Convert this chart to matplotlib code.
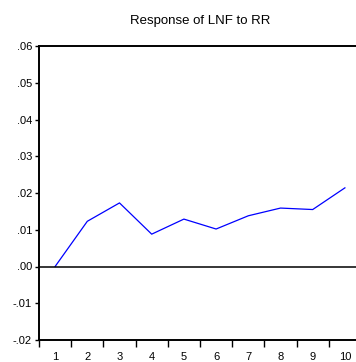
import matplotlib
matplotlib.use("Agg")
import matplotlib.pyplot as plt
from matplotlib.ticker import FixedLocator

plt.rcParams['font.family'] = ['Liberation Sans Narrow', 'Liberation Sans', 'DejaVu Sans']

periods = [1, 2, 3, 4, 5, 6, 7, 8, 9, 10]
response = [0.0, 0.0123, 0.0173, 0.0088, 0.0129, 0.0102, 0.0138, 0.0159, 0.0155, 0.0214]
y_ticks = [-0.02, -0.01, 0.00, 0.01, 0.02, 0.03, 0.04, 0.05, 0.06]
y_labels = ['-.02', '-.01', '.00', '.01', '.02', '.03', '.04', '.05', '.06']
title = 'Response of LNF to RR'

fig = plt.figure(figsize=(3.56, 3.62), dpi=100)
ax = fig.add_axes([39 / 356, 22 / 362, 322 / 356, 294 / 362])

ax.plot(periods, response, color='#0000ff', lw=0.9)
ax.axhline(0, color='black', lw=1.1)

ax.set_xlim(0.5, 10.5)
ax.set_ylim(-0.02, 0.06)
ax.set_yticks(y_ticks)
ax.set_yticklabels(y_labels)
ax.set_xticks(periods)
ax.set_xticklabels([str(p) for p in periods])
ax.xaxis.set_minor_locator(FixedLocator([p - 0.5 for p in periods] + [10.5]))
ax.tick_params(axis='x', which='major', length=0, pad=9, labelsize=8)
ax.tick_params(axis='x', which='minor', length=5, width=1, direction='out')
ax.tick_params(axis='y', which='major', length=3, width=1, direction='out', pad=2, labelsize=8)

for side in ('left', 'bottom', 'top', 'right'):
    ax.spines[side].set_linewidth(1.4)

ax.set_title(title, fontsize=9.5, pad=16)

fig.savefig('out.png', dpi=100)
